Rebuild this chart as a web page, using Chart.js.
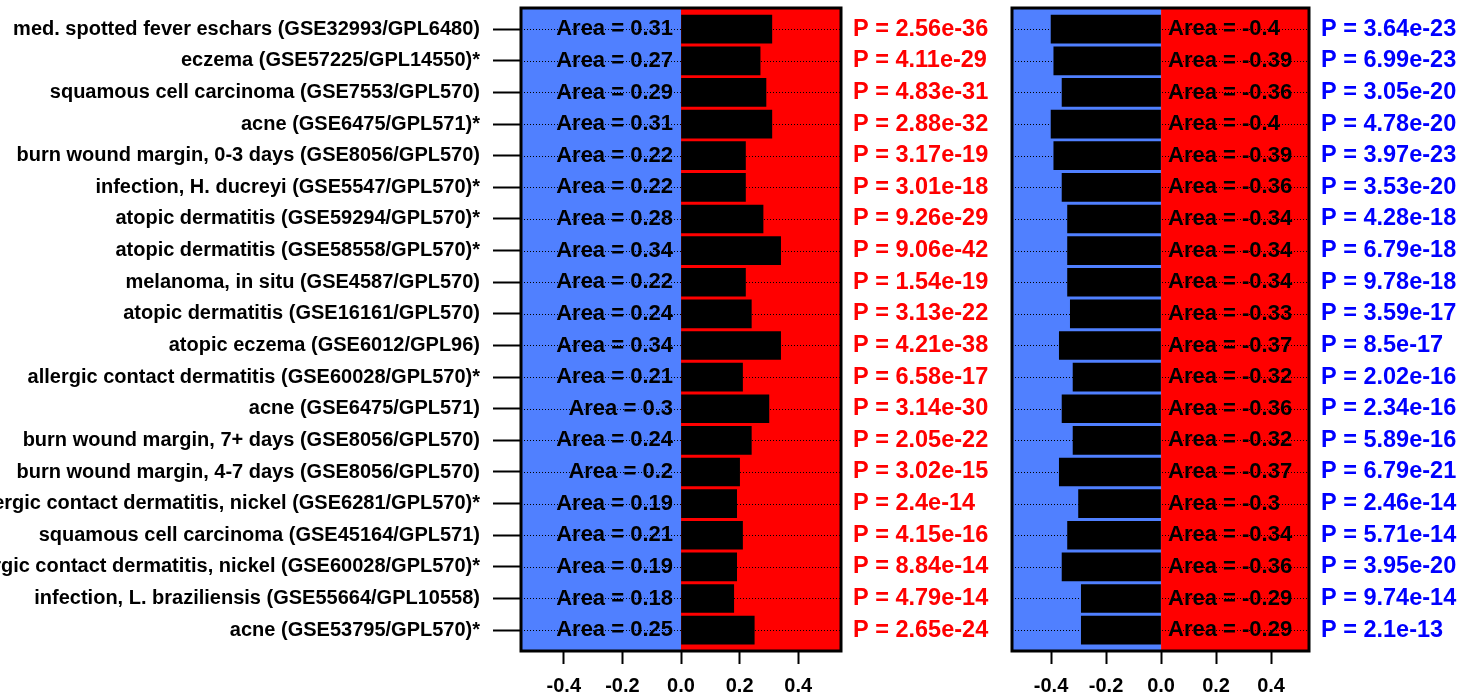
<!DOCTYPE html>
<html>
<head>
<meta charset="utf-8">
<script src="https://cdn.jsdelivr.net/npm/chart.js@4.4.1/dist/chart.umd.min.js"></script>
<style>
  body { margin: 0; background: #fff; }
  #wrap { position: relative; width: 1462px; height: 692px; }
  canvas { position: absolute; top: 0; }
  #left { left: 0; }
  #right { left: 1000px; }
</style>
</head>
<body>
<div id="wrap">
  <canvas id="left" width="1000" height="692"></canvas>
  <canvas id="right" width="462" height="692"></canvas>
</div>
<script>
// datasets, top to bottom
const datasetLabels = [
  "med. spotted fever eschars (GSE32993/GPL6480)",
  "eczema (GSE57225/GPL14550)*",
  "squamous cell carcinoma (GSE7553/GPL570)",
  "acne (GSE6475/GPL571)*",
  "burn wound margin, 0-3 days (GSE8056/GPL570)",
  "infection, H. ducreyi (GSE5547/GPL570)*",
  "atopic dermatitis (GSE59294/GPL570)*",
  "atopic dermatitis (GSE58558/GPL570)*",
  "melanoma, in situ (GSE4587/GPL570)",
  "atopic dermatitis (GSE16161/GPL570)",
  "atopic eczema (GSE6012/GPL96)",
  "allergic contact dermatitis (GSE60028/GPL570)*",
  "acne (GSE6475/GPL571)",
  "burn wound margin, 7+ days (GSE8056/GPL570)",
  "burn wound margin, 4-7 days (GSE8056/GPL570)",
  "allergic contact dermatitis, nickel (GSE6281/GPL570)*",
  "squamous cell carcinoma (GSE45164/GPL571)",
  "allergic contact dermatitis, nickel (GSE60028/GPL570)*",
  "infection, L. braziliensis (GSE55664/GPL10558)",
  "acne (GSE53795/GPL570)*"
];

// left panel
const areaUp = [0.31, 0.27, 0.29, 0.31, 0.22, 0.22, 0.28, 0.34, 0.22, 0.24,
                0.34, 0.21, 0.3, 0.24, 0.2, 0.19, 0.21, 0.19, 0.18, 0.25];
const pUp = [2.56e-36, 4.11e-29, 4.83e-31, 2.88e-32, 3.17e-19, 3.01e-18, 9.26e-29, 9.06e-42, 1.54e-19, 3.13e-22,
             4.21e-38, 6.58e-17, 3.14e-30, 2.05e-22, 3.02e-15, 2.4e-14, 4.15e-16, 8.84e-14, 4.79e-14, 2.65e-24];

// right panel
const areaDown = [-0.4, -0.39, -0.36, -0.4, -0.39, -0.36, -0.34, -0.34, -0.34, -0.33,
                  -0.37, -0.32, -0.36, -0.32, -0.37, -0.3, -0.34, -0.36, -0.29, -0.29];
const pDown = [3.64e-23, 6.99e-23, 3.05e-20, 4.78e-20, 3.97e-23, 3.53e-20, 4.28e-18, 6.79e-18, 9.78e-18, 3.59e-17,
               8.5e-17, 2.02e-16, 2.34e-16, 5.89e-16, 6.79e-21, 2.46e-14, 5.71e-14, 3.95e-20, 9.74e-14, 2.1e-13];

const xTicks = [-0.4, -0.2, 0, 0.2, 0.4];

const FAMILY = "'Liberation Sans', Arial, sans-serif";

const panelPlugin = {
  id: "panel",
  beforeDatasetsDraw(chart, args, opts) {
    const { ctx, chartArea: a, scales } = chart;
    const x0 = scales.x.getPixelForValue(0);
    ctx.save();
    ctx.fillStyle = "#5080FF";
    ctx.fillRect(a.left, a.top, x0 - a.left, a.bottom - a.top);
    ctx.fillStyle = "#FF0000";
    ctx.fillRect(x0, a.top, a.right - x0, a.bottom - a.top);
    // dotted row lines
    ctx.strokeStyle = "#000";
    ctx.lineWidth = 1;
    ctx.setLineDash([1, 2]);
    datasetLabels.forEach((_, i) => {
      const y = Math.round(scales.y.getPixelForValue(i)) + 0.5;
      ctx.beginPath();
      ctx.moveTo(a.left, y);
      ctx.lineTo(a.right, y);
      ctx.stroke();
    });
    ctx.restore();
  },
  afterDatasetsDraw(chart, args, opts) {
    const { ctx, chartArea: a, scales } = chart;
    const x0 = scales.x.getPixelForValue(0);
    ctx.save();
    ctx.textBaseline = "middle";
    opts.areas.forEach((v, i) => {
      const y = scales.y.getPixelForValue(i);
      ctx.font = "bold 22px " + FAMILY;
      ctx.fillStyle = "#000";
      if (opts.side === "left") {
        ctx.textAlign = "right";
        ctx.fillText("Area = " + v, x0 - 8, y);
      } else {
        ctx.textAlign = "left";
        ctx.fillText("Area = " + v, x0 + 7, y);
      }
      ctx.font = "bold 23.5px " + FAMILY;
      ctx.textAlign = "left";
      ctx.fillStyle = opts.pColor;
      ctx.fillText("P = " + opts.pvals[i], a.right + 12, y);
    });
    ctx.restore();
  },
  afterDraw(chart) {
    const { ctx, chartArea: a } = chart;
    ctx.save();
    ctx.strokeStyle = "#000";
    ctx.lineWidth = 3;
    ctx.strokeRect(a.left, a.top, a.right - a.left, a.bottom - a.top);
    ctx.restore();
  }
};

function makePanel(id, areas, pvals, o) {
  return new Chart(document.getElementById(id), {
    type: "bar",
    data: {
      datasets: [{
        data: areas.map((v, i) => ({ x: v, y: i })),
        backgroundColor: "#000",
        borderWidth: 0,
        barThickness: 28
      }]
    },
    options: {
      indexAxis: "y",
      responsive: false,
      animation: false,
      events: [],
      layout: { padding: o.padding },
      plugins: {
        legend: { display: false },
        tooltip: { enabled: false },
        panel: { areas: areas, pvals: pvals, pColor: o.pColor, side: o.side }
      },
      scales: {
        x: {
          type: "linear",
          min: o.xmin,
          max: o.xmax,
          afterBuildTicks: (s) => { s.ticks = xTicks.map((v) => ({ value: v })); },
          afterFit: (s) => { s.height = 41; s.paddingLeft = 0; s.paddingRight = 0; },
          grid: { drawOnChartArea: false, tickLength: 13, tickColor: "#000", tickWidth: 2 },
          border: { display: false },
          ticks: {
            padding: 10,
            color: "#000",
            maxRotation: 0,
            font: { family: FAMILY, size: 20, weight: "bold" },
            callback: (v) => Number(v).toFixed(1)
          }
        },
        y: {
          type: "linear",
          reverse: true,
          offset: false,
          min: -0.67,
          max: 19.66,
          display: o.showLabels,
          afterBuildTicks: (s) => { s.ticks = datasetLabels.map((_, i) => ({ value: i })); },
          afterFit: (s) => {
            if (o.showLabels) s.width = 521;
            s.paddingTop = 0;
            s.paddingBottom = 0;
          },
          grid: { offset: false, drawOnChartArea: false, tickLength: 28, tickColor: "#000", tickWidth: 2 },
          border: { display: false },
          ticks: {
            autoSkip: false,
            padding: 13,
            color: "#000",
            font: { family: FAMILY, size: 20, weight: "bold" },
            callback: (v) => datasetLabels[v]
          }
        }
      }
    },
    plugins: [panelPlugin]
  });
}

makePanel("left", areaUp, pUp, {
  xmin: -0.546, xmax: 0.546,
  padding: { top: 8, right: 159, left: 0, bottom: 0 },
  pColor: "#FF0000", side: "left", showLabels: true
});

makePanel("right", areaDown, pDown, {
  xmin: -0.542, xmax: 0.538,
  padding: { top: 8, right: 153, left: 12, bottom: 0 },
  pColor: "#0000FF", side: "right", showLabels: false
});
</script>
</body>
</html>
